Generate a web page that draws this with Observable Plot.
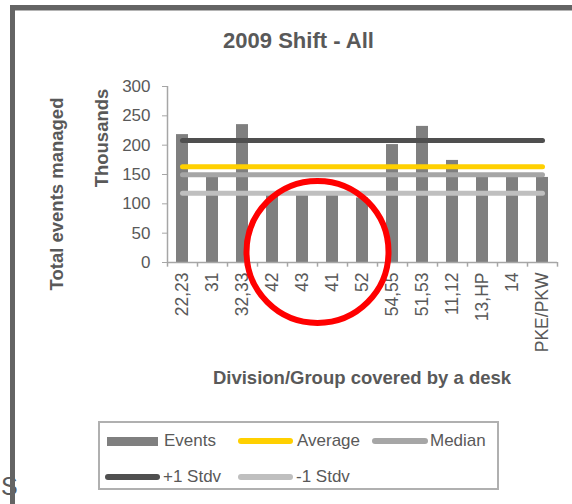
<!DOCTYPE html>
<html>
<head>
<meta charset="utf-8">
<script src="https://cdn.jsdelivr.net/npm/d3@7"></script>
<script src="https://cdn.jsdelivr.net/npm/@observablehq/plot@0.6"></script>
<style>
  html, body { margin: 0; padding: 0; background: #fff; }
  body { width: 572px; height: 504px; position: relative; overflow: hidden;
         font-family: "Liberation Sans", Arial, sans-serif; color: #595959; }
  #chart { position: absolute; left: 0; top: 0; }
  .abs { position: absolute; white-space: nowrap; line-height: 1; }
  #frameTop { position: absolute; left: 10px; top: 5px; width: 562px; height: 5px; background: #646464; border-bottom: 1px solid #b4b4b4; }
  #frameLeft { position: absolute; left: 10px; top: 5px; width: 5px; height: 499px; background: #646464; }
  #title { left: 298.5px; top: 29.7px; transform: translateX(-50%); font-size: 22px; font-weight: bold; }
  #xtitle { left: 362px; top: 369.3px; transform: translateX(-50%); font-size: 18.5px; font-weight: bold; }
  .ytitle { font-size: 18.5px; font-weight: bold; transform: translate(-50%, -50%) rotate(-90deg); }
  #legend { position: absolute; left: 98px; top: 421px; width: 397px; height: 65px; border: 2px solid #b0b0b0; }
  .lt { position: absolute; font-size: 17px; line-height: 1; white-space: nowrap; }
  .sw { position: absolute; }
</style>
</head>
<body>
<div class="abs" style="left:1px; top:473.8px; font-size:25px;">S</div>
<div id="chart"></div>
<div id="frameTop"></div>
<div id="frameLeft"></div>
<div id="title" class="abs">2009 Shift - All</div>
<div id="xtitle" class="abs">Division/Group covered by a desk</div>
<div class="abs ytitle" style="left:56.8px; top:193.5px;">Total events managed</div>
<div class="abs ytitle" style="left:101.8px; top:138.3px;">Thousands</div>
<div id="legend"></div>
<div id="legendItems"></div>
<script>
// ---- data (values in thousands) ----
const categories = ["22,23", "31", "32,33", "42", "43", "41", "52", "54,55", "51,53", "11,12", "13,HP", "14", "PKE/PKW"];
const events = [218, 149, 235, 115, 117, 116, 110, 201, 232, 174, 150, 149, 145];
const average = 163;
const median = 149.5;
const plusStdv = 208;
const minusStdv = 118;
const yTicks = [0, 50, 100, 150, 200, 250, 300];
const highlight = [{x: "43", y: 18}];

const seriesNames = ["Events", "Average", "Median", "+1 Stdv", "-1 Stdv"];
const seriesColors = {"Events": "#7f7f7f", "Average": "#ffd000", "Median": "#a6a6a6", "+1 Stdv": "#4f4f4f", "-1 Stdv": "#bfbfbf"};

const bars = categories.map((c, i) => ({cat: c, value: events[i]}));
const refLines = [
  {name: "+1 Stdv", value: plusStdv},
  {name: "Average", value: average},
  {name: "Median", value: median},
  {name: "-1 Stdv", value: minusStdv}
];

const axisColor = "#a6a6a6";
const textColor = "#595959";

const chart = Plot.plot({
  width: 572,
  height: 504,
  marginLeft: 167,
  marginRight: 15,
  marginTop: 86,
  marginBottom: 242,
  style: {background: "transparent", fontFamily: "'Liberation Sans', Arial, sans-serif", overflow: "visible"},
  x: {type: "band", domain: categories, paddingInner: 0.6, paddingOuter: 0.3, round: false, label: null},
  y: {domain: [0, 300], label: null},
  marks: [
    Plot.barY(bars, {x: "cat", y: "value", fill: seriesColors["Events"]}),
    Plot.ruleY([0], {stroke: axisColor, strokeWidth: 1.5}),
    Plot.ruleX([categories[0]], {dx: -15, y1: 0, y2: 300, stroke: axisColor, strokeWidth: 1.5}),
    Plot.ruleX(categories, {dx: -15, y1: 0, y2: -8, stroke: axisColor, strokeWidth: 1.5}),
    Plot.ruleX([categories[categories.length - 1]], {dx: 15, y1: 0, y2: -8, stroke: axisColor, strokeWidth: 1.5}),
    Plot.axisY({ticks: yTicks, tickSize: 5, tickPadding: 12, fontSize: 17, stroke: axisColor, fill: textColor, label: null}),
    Plot.axisX({tickRotate: -90, tickSize: 0, tickPadding: 10, fontSize: 17.5, fill: textColor, label: null}),
    ...refLines.map(s => Plot.line(categories, {x: d => d, y: () => s.value, stroke: seriesColors[s.name], strokeWidth: 5, strokeLinecap: "round"})),
    Plot.dot(highlight, {x: "x", y: "y", r: 71, dx: 15, stroke: "#ff0000", strokeWidth: 6, fill: "none"})
  ]
});
document.getElementById("chart").appendChild(chart);

// ---- legend ----
const legendLayout = [
  {name: "Events", kind: "bar", x1: 107, x2: 158, y: 441, tx: 164},
  {name: "Average", kind: "line", x1: 238, x2: 293, y: 441, tx: 297},
  {name: "Median", kind: "line", x1: 372, x2: 428, y: 441, tx: 430},
  {name: "+1 Stdv", kind: "line", x1: 105, x2: 160, y: 476.5, tx: 163},
  {name: "-1 Stdv", kind: "line", x1: 238, x2: 293, y: 476.5, tx: 296}
];
const li = document.getElementById("legendItems");
for (const it of legendLayout) {
  const sw = document.createElement("div");
  sw.className = "sw";
  const h = it.kind === "bar" ? 9 : 6;
  sw.style.left = it.x1 + "px";
  sw.style.top = (it.y - h / 2) + "px";
  sw.style.width = (it.x2 - it.x1) + "px";
  sw.style.height = h + "px";
  sw.style.background = seriesColors[it.name];
  if (it.kind === "line") sw.style.borderRadius = "3px";
  li.appendChild(sw);
  const t = document.createElement("div");
  t.className = "lt";
  t.textContent = it.name;
  t.style.left = it.tx + "px";
  t.style.top = (it.y + 5.5 - 14.4) + "px";
  li.appendChild(t);
}
</script>
</body>
</html>
